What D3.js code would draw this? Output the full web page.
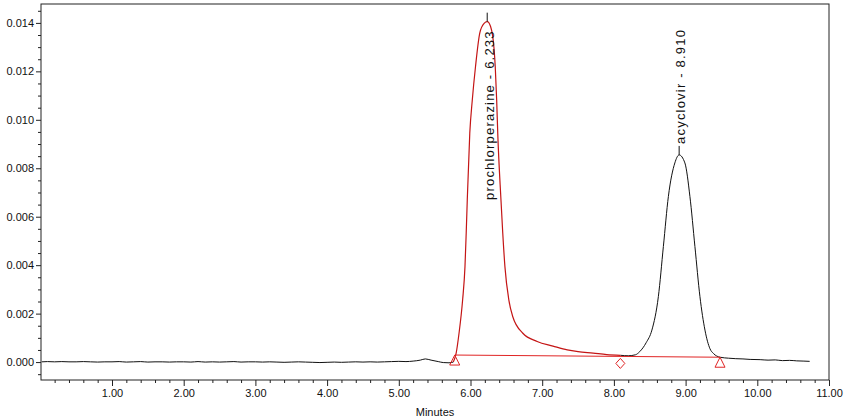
<!DOCTYPE html>
<html>
<head>
<meta charset="utf-8">
<script src="https://cdn.jsdelivr.net/npm/d3@7"></script>
<style>
  body { margin: 0; background: #fff; }
  text { font-family: "Liberation Sans", Arial, sans-serif; }
</style>
</head>
<body>
<script>
// trace (minutes, AU)
let times = [0.02,0.1,0.2,0.3,0.4,0.5,0.6,0.7,0.8,0.9,1.0,1.1,1.2,1.3,1.4,1.5,1.6,1.7,1.8,1.9,
  2.0,2.1,2.2,2.3,2.4,2.5,2.6,2.7,2.8,2.9,3.0,3.1,3.2,3.3,3.4,3.5,3.6,3.7,3.8,3.9,
  4.0,4.1,4.2,4.3,4.4,4.5,4.6,4.7,4.8,4.9,5.0,5.1,5.2,5.3,5.37,5.45,5.55,5.62,5.7,5.76,
  5.8,5.84,5.89,5.923,5.94,5.955,5.99,6.025,6.07,6.13,6.19,6.233,6.28,6.33,6.345,6.365,6.38,
  6.425,6.45,6.48,6.535,6.59,6.73,6.93,7.15,7.35,7.5,7.71,7.9,8.09,
  8.2,8.3,8.36,8.45,8.53,8.62,8.69,8.76,8.85,8.91,8.99,9.06,9.13,9.2,9.27,9.34,9.39,9.48,
  9.6,9.7,9.8,9.9,10.04,10.15,10.25,10.35,10.45,10.55,10.65,10.73]
let absorb = [0.00001,0.00002,0.00001,0.00002,0.00001,0.00001,0.00002,0.00001,0.00000,0.00001,0.00001,0.00002,0.00000,0.00001,0.00002,0.00000,0.00001,0.00001,0.00000,0.00001,
  0.00001,0.00000,0.00002,0.00000,0.00001,0.00000,0.00001,0.00002,0.00000,0.00001,0.00001,0.00000,0.00001,0.00000,-0.00001,0.00000,0.00001,0.00000,-0.00001,-0.00002,
  -0.00001,0.00000,-0.00001,0.00000,0.00001,0.00000,0.00001,0.00000,0.00001,0.00002,0.00003,0.00002,0.00004,0.00008,0.00013,0.00008,0.00002,-0.00002,-0.00003,0.00000,
  0.00037,0.00119,0.00256,0.00394,0.00532,0.00669,0.00945,0.01082,0.01220,0.01359,0.01398,0.01405,0.01385,0.01288,0.01220,0.01082,0.00945,
  0.00669,0.00532,0.00394,0.00256,0.00187,0.00119,0.00085,0.00066,0.00050,0.00043,0.00037,0.00031,0.00028,
  0.00026,0.00030,0.00043,0.00080,0.00132,0.00270,0.00477,0.00684,0.00822,0.00855,0.00822,0.00684,0.00477,0.00270,0.00132,0.00055,0.00035,0.00020,
  0.00016,0.00014,0.00013,0.00011,0.00010,0.00008,0.00009,0.00006,0.00007,0.00005,0.00004,0.00003]

let peakNames = ['prochlorperazine', 'acyclovir']
let peakRT = [6.233, 8.910]
let peakHeight = [0.01405, 0.00855]

// integration baseline and its markers
let baseTimes = [5.78, 9.48]
let baseValues = [0.00029, 0.00020]
let dropTime = 8.09
let redStart = 5.76
let redEnd = 8.09

let xMajor = [1,2,3,4,5,6,7,8,9,10,11]
let yMajor = [0,0.002,0.004,0.006,0.008,0.010,0.012,0.014]

let w = 844
let h = 420
let pLeft = 41, pRight = 829, pTop = 4, pBottom = 380

let x = d3.scaleLinear().domain([0, 11]).range([40.3, pRight])
let y = d3.scaleLinear().domain([-0.00074, 0.01478]).range([pBottom, pTop])

let svg = d3.select('body').append('svg').attr('width', w).attr('height', h)

let pts = times.map((t, i) => [t, absorb[i]])
let line = d3.line().x(d => x(d[0])).y(d => y(d[1])).curve(d3.curveMonotoneX)

// black trace everywhere, red over the integrated peak
svg.append('path').attr('d', line(pts.filter(d => d[0] <= redStart + 0.001)))
  .attr('fill', 'none').attr('stroke', '#111').attr('stroke-width', 1)
svg.append('path').attr('d', line(pts.filter(d => d[0] >= redEnd - 0.001)))
  .attr('fill', 'none').attr('stroke', '#111').attr('stroke-width', 1)
svg.append('path').attr('d', line(pts.filter(d => d[0] >= redStart - 0.001 && d[0] <= redEnd + 0.001)))
  .attr('fill', 'none').attr('stroke', '#c41515').attr('stroke-width', 1.2)

// baseline
let baseLine = d3.scaleLinear().domain(baseTimes).range(baseValues)
svg.append('line')
  .attr('x1', x(baseTimes[0])).attr('y1', y(baseValues[0]))
  .attr('x2', x(baseTimes[1])).attr('y2', y(baseValues[1]))
  .attr('stroke', '#e02424').attr('stroke-width', 1)

baseTimes.forEach((t, i) => {
  let cx = x(t), cy = y(baseValues[i])
  svg.append('path')
    .attr('d', `M${cx},${cy} L${cx + 5},${cy + 10} L${cx - 5},${cy + 10} Z`)
    .attr('fill', 'none').attr('stroke', '#e02424').attr('stroke-width', 1)
})
let dx = x(dropTime), dy = y(baseLine(dropTime)) + 7
svg.append('path')
  .attr('d', `M${dx},${dy - 5} L${dx + 4.5},${dy} L${dx},${dy + 5} L${dx - 4.5},${dy} Z`)
  .attr('fill', 'none').attr('stroke', '#e02424').attr('stroke-width', 1)

// apex ticks + labels
peakRT.forEach((rt, i) => {
  svg.append('line')
    .attr('x1', x(rt)).attr('x2', x(rt))
    .attr('y1', y(peakHeight[i])).attr('y2', y(peakHeight[i]) - 9)
    .attr('stroke', '#111').attr('stroke-width', 1)
})
let labelY = [200, y(peakHeight[1]) - 11]
peakNames.forEach((n, i) => {
  let lx = x(peakRT[i]) + (i == 0 ? 7 : 6)
  svg.append('text')
    .attr('transform', 'translate(' + lx + ',' + labelY[i] + ') rotate(-90)')
    .attr('font-size', 13).attr('letter-spacing', 1.2).attr('fill', '#111')
    .text(n + ' - ' + d3.format('.3f')(peakRT[i]))
})

// frame
svg.append('rect').attr('x', pLeft).attr('y', pTop)
  .attr('width', pRight - pLeft).attr('height', pBottom - pTop)
  .attr('fill', 'none').attr('stroke', '#222').attr('stroke-width', 1)

// axes
let xMinor = d3.range(0.2, 11, 0.2).filter(v => Math.abs(v - Math.round(v)) > 0.01)
let yMinor = d3.range(-0.0005, 0.0148, 0.0005).filter(v => Math.abs(v / 0.002 - Math.round(v / 0.002)) > 0.01)

let gx = svg.append('g').attr('transform', 'translate(0,' + pBottom + ')')
gx.call(d3.axisBottom(x).tickValues(xMajor).tickFormat(d3.format('.2f')).tickSize(6).tickPadding(3).tickSizeOuter(0))
gx.append('g').call(d3.axisBottom(x).tickValues(xMinor).tickFormat('').tickSize(3).tickSizeOuter(0))

let gy = svg.append('g').attr('transform', 'translate(' + pLeft + ',0)')
gy.call(d3.axisLeft(y).tickValues(yMajor).tickFormat(d3.format('.3f')).tickSize(5).tickPadding(2).tickSizeOuter(0))
gy.append('g').call(d3.axisLeft(y).tickValues(yMinor).tickFormat('').tickSize(3).tickSizeOuter(0))

svg.selectAll('.domain').remove()
svg.selectAll('.tick text').attr('font-size', 11).attr('fill', '#111')
  .attr('font-family', '"Liberation Sans", Arial, sans-serif')
svg.selectAll('.tick line').attr('stroke', '#222')

svg.append('text').attr('x', 435).attr('y', 416).attr('text-anchor', 'middle')
  .attr('font-size', 11).attr('fill', '#111').text('Minutes')
</script>
</body>
</html>
